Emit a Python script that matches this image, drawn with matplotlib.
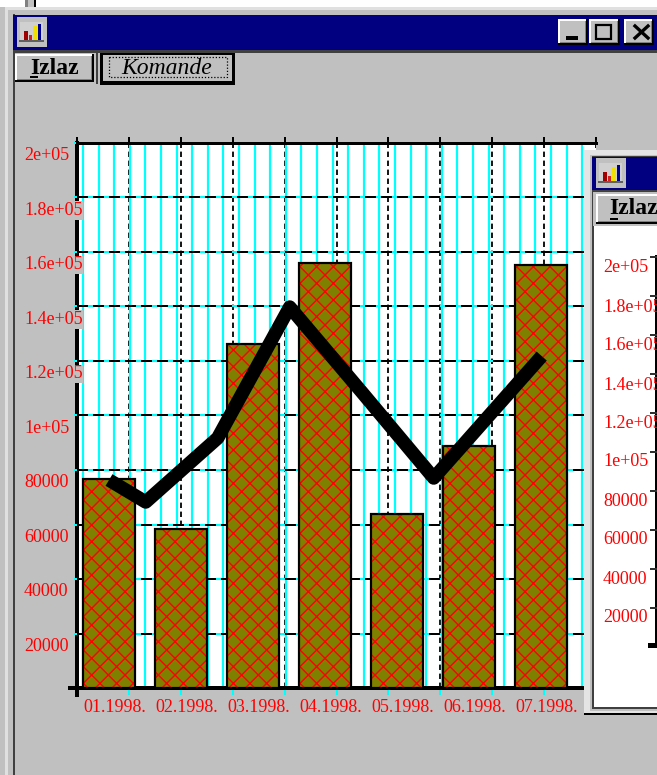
import numpy as np
import matplotlib
matplotlib.use('Agg')
import matplotlib.pyplot as plt
from matplotlib.patches import Rectangle
from matplotlib.transforms import ScaledTranslation

##values
months = ['01.1998.', '02.1998.', '03.1998.', '04.1998.', '05.1998.', '06.1998.', '07.1998.']
bar_values = [76700, 58350, 126200, 156000, 63850, 88800, 155200]
line_x = [0, 0.51, 1.51, 2.51, 3.51, 4.51, 6.01]
line_values = [76330, 68260, 91740, 139800, 108600, 77060, 121800]
y_ticks = [0, 20000, 40000, 60000, 80000, 100000, 120000, 140000, 160000, 180000, 200000]
y_labels = ['', '20000', '40000', '60000', '80000', '1e+05', '1.2e+05', '1.4e+05', '1.6e+05', '1.8e+05', '2e+05']

W, H = 657, 775
GREY = '#c0c0c0'
NAVY = '#000080'
plt.rcParams['hatch.linewidth'] = 1.0
plt.rcParams['font.family'] = ['Liberation Serif', 'DejaVu Serif']

fig = plt.figure(figsize=(W / 100, H / 100), dpi=100, facecolor=GREY)

##pixel to points, everything below was measured in pixels
def px(v):
    return v * 0.72

##window chrome under the chart
back = fig.add_axes([0, 0, 1, 1], zorder=0)
back.set_xlim(0, W)
back.set_ylim(H, 0)
back.axis('off')

##window chrome over the chart
front = fig.add_axes([0, 0, 1, 1], zorder=3)
front.set_xlim(0, W)
front.set_ylim(H, 0)
front.axis('off')

def rect(ax, x0, y0, x1, y1, color, z=1):
    ax.add_patch(Rectangle((x0, y0), x1 - x0, y1 - y0, facecolor=color, edgecolor='none', zorder=z))

def button(ax, x0, y0, x1, y1):
    rect(ax, x0, y0, x1, y1, 'black')
    rect(ax, x0, y0, x1 - 2, y1 - 2, 'white')
    rect(ax, x0 + 2, y0 + 2, x1 - 2, y1 - 2, '#808080')
    rect(ax, x0 + 2, y0 + 2, x1 - 3, y1 - 3, GREY)

def icon(ax, x0, y0):
    rect(ax, x0, y0, x0 + 30, y0 + 30, GREY)
    rect(ax, x0 + 3, y0 + 5, x0 + 26, y0 + 24, '#d0d0d0')
    rect(ax, x0 + 7, y0 + 14, x0 + 11, y0 + 23, '#a00000')
    rect(ax, x0 + 12, y0 + 18, x0 + 15, y0 + 23, '#d02020')
    rect(ax, x0 + 16, y0 + 9, x0 + 20, y0 + 23, '#f0e000')
    rect(ax, x0 + 21, y0 + 7, x0 + 24, y0 + 23, '#000090')
    rect(ax, x0 + 2, y0 + 23, x0 + 27, y0 + 25, '#606060')

##white desktop above the main window
rect(back, 0, 0, W, 7, 'white')
rect(back, 25, 0, 28, 7, '#808080')
rect(back, 28, 0, 34, 7, GREY)
rect(back, 34, 0, 36, 7, 'black')
rect(back, 5, 7, W, 10, '#e0e0e0')
rect(back, 5, 7, 8, H, '#e0e0e0')
rect(back, 13, 14, 15, H, '#404040')
rect(back, 13, 15, W, 50, NAVY)
rect(back, 13, 50, W, 53, '#404040')
icon(back, 17, 17)

button(back, 558, 19, 588, 45)
button(back, 589, 19, 620, 45)
button(back, 624, 19, 654, 45)
rect(back, 566, 36, 578, 40, 'black')
back.add_patch(Rectangle((596, 25), 15, 14, facecolor='none', edgecolor='black', lw=1.6, zorder=2))
back.plot([635, 648], [26, 38], color='black', lw=2.4, zorder=2)
back.plot([648, 635], [26, 38], color='black', lw=2.4, zorder=2)

button(back, 15, 54, 94, 82)
back.text(55, 68, 'Izlaz', ha='center', va='center', fontsize=17, fontweight='bold', zorder=2)
rect(back, 30, 76, 38, 78, 'black', 2)
rect(back, 96, 53, 98, 84, '#404040')
rect(back, 100, 53, 235, 85, 'black')
rect(back, 103, 55, 232, 81, GREY)
back.text(167, 68, 'Komande', ha='center', va='center', fontsize=17, style='italic', zorder=2)
back.add_patch(Rectangle((109, 57), 118, 20, facecolor='none', edgecolor='black', lw=0.9, ls=(0, (1, 1.5)), zorder=2))

##chart, axes placed on the measured pixel box
x_left, x_right, y_top, y_bottom = 77, 596, 143, 688
ax = fig.add_axes([x_left / W, 1 - y_bottom / H, (x_right - x_left) / W, (y_bottom - y_top) / H], zorder=1)
ax.set_facecolor('white')
unit = 72.0  ##pixels between months
first = 109
ax.set_xlim((x_left - first) / unit, (x_right - first) / unit)
ax.set_ylim(0, 200000)

positions = np.arange(len(months))
ax.bar(positions, bar_values, width=0.71, color='#808000', edgecolor='red', hatch='xx', linewidth=0, zorder=3)
ax.bar(positions, bar_values, width=0.71, color='none', edgecolor='black', linewidth=px(2.2), zorder=4)
ax.plot(line_x, line_values, color='black', lw=px(13.5), solid_capstyle='butt', solid_joinstyle='round', zorder=5)

major_step = (x_right - x_left) / 10 / unit
major = ax.get_xlim()[0] + major_step * np.arange(11)
minor = (83 - first) / unit + 15.6 / unit * np.arange(33)
ax.set_xticks(major)
ax.set_xticks(minor, minor=True)
ax.set_xticklabels([])
ax.set_yticks(y_ticks)
ax.set_yticklabels(y_labels, color='red', fontsize=13, ha='left',
                   bbox=dict(facecolor=GREY, edgecolor='none', pad=0.5))
ax.tick_params(axis='y', which='major', length=px(3), width=px(2), color='cyan', pad=px(50))
ax.tick_params(axis='x', which='major', length=px(7), width=px(2), color='cyan', top=True)
ax.tick_params(axis='x', which='minor', length=0)

##labels sit a little under their gridline in the original
offset = ScaledTranslation(0, -px(11) / 72, fig.dpi_scale_trans)
for lab in ax.get_yticklabels():
    lab.set_transform(lab.get_transform() + offset)
    lab.set_clip_on(False)

for tick in ax.xaxis.get_major_ticks():
    tick.tick2line.set_markeredgecolor('black')
    tick.tick2line.set_markersize(px(6))
first_x = ax.xaxis.get_major_ticks()[0]
first_x.tick1line.set_markeredgecolor('black')
first_x.tick1line.set_markersize(px(9))
first_x.tick1line.set_markeredgewidth(px(4))
first_y = ax.yaxis.get_major_ticks()[0]
first_y.tick1line.set_markeredgecolor('black')
first_y.tick1line.set_markersize(px(9))
first_y.tick1line.set_markeredgewidth(px(4))

ax.set_axisbelow(True)
ax.grid(True, axis='x', which='minor', color='cyan', lw=px(2.2), zorder=1)
ax.grid(True, axis='x', which='major', color='black', lw=px(1.8), linestyle=(0, (3, 2)))
ax.grid(True, axis='y', which='major', color='black', lw=px(2), linestyle=(0, (5.5, 2.5)))
for line in ax.yaxis.get_gridlines():
    line.set_gapcolor('cyan')

for side in ['left', 'bottom', 'top']:
    ax.spines[side].set_color('black')
ax.spines['left'].set_linewidth(px(4))
ax.spines['left'].set_zorder(0.4)  ##the labels cut through the axis line
ax.spines['bottom'].set_linewidth(px(4))
ax.spines['top'].set_linewidth(px(3))
ax.spines['right'].set_visible(False)

##month labels start at the left side of each bar
for pos, name in zip(positions, months):
    ax.annotate(name, xy=(pos - 0.355, 0), xycoords='data', xytext=(0, -px(20)), textcoords='offset points',
                ha='left', va='center', color='red', fontsize=13, annotation_clip=False)

##second window in front, cut by the edge of the picture
rect(front, 584, 150, W, 715, 'black')
rect(front, 584, 150, W, 713, '#e4e4e4')
rect(front, 590, 155, W, 711, GREY)
rect(front, 592, 156, W, 709, '#404040')
rect(front, 592, 157, W, 190, NAVY)
rect(front, 592, 190, W, 192, '#404040')
rect(front, 593, 192, W, 226, GREY)
icon(front, 596, 158)
button(front, 596, 194, W + 20, 224)
front.text(609, 209, 'Izlaz', ha='left', va='center', fontsize=17, fontweight='bold', zorder=2, clip_on=True)
rect(front, 610, 218, 618, 220, 'black', 2)
rect(front, 594, 226, W, 707, 'white')

rect(front, 655, 255, 657, 645, 'black', 2)
for ypix in [256, 295, 334, 373, 412, 451, 490, 529, 568, 607]:
    rect(front, 650, ypix, W, ypix + 1.5, '#303030', 2)
rect(front, 648, 643, W, 648, 'black', 2)

##labels after the axis so the cut text stays readable, as in the original
inner_pos = [268, 307, 346, 385, 424, 462, 501, 540, 579, 618]
for ypix, name in zip(inner_pos, y_labels[:0:-1]):
    front.text(603, ypix, name, ha='left', va='center', color='red', fontsize=13, zorder=3, clip_on=True)

fig.savefig('out.png', dpi=100, facecolor=GREY)
